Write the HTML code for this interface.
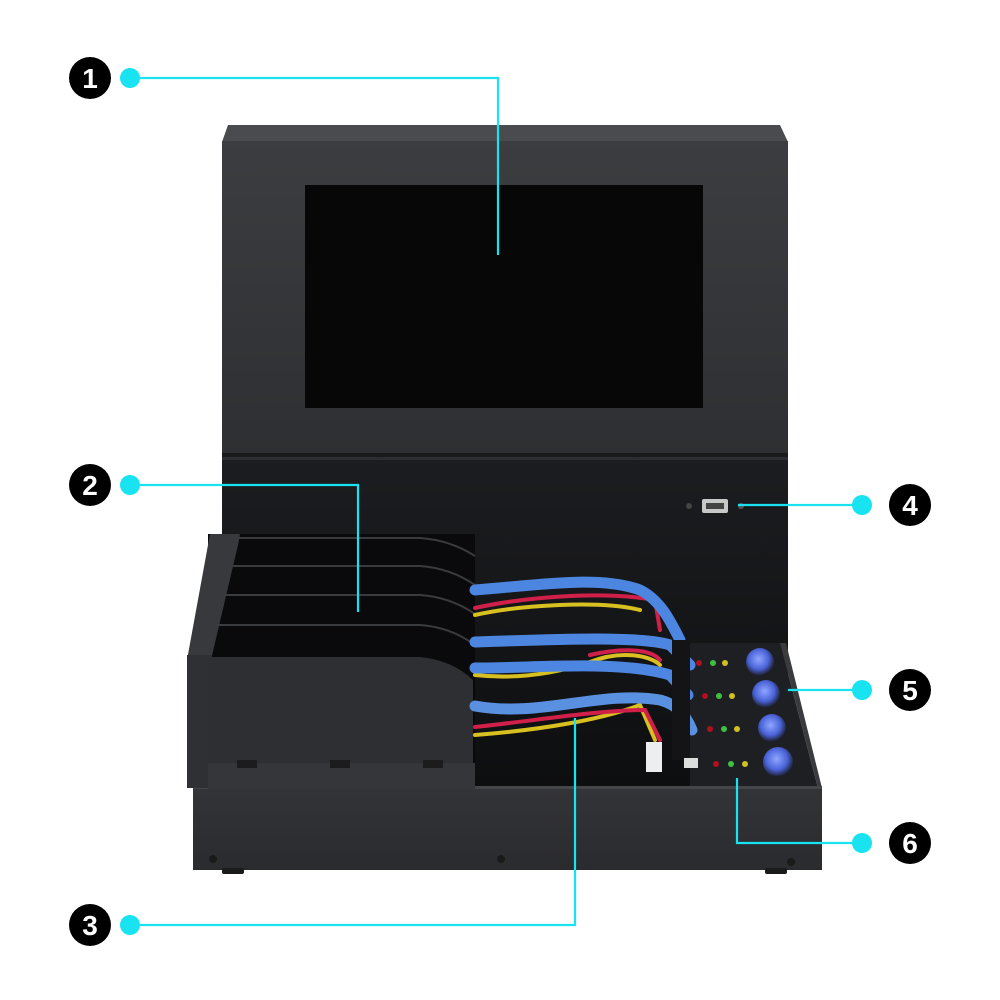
<!DOCTYPE html>
<html><head><meta charset="utf-8"><style>
html,body{margin:0;padding:0;background:#fff;}
svg{display:block;}
text{font-family:"Liberation Sans",sans-serif;font-weight:bold;}
</style></head><body>
<svg width="1000" height="1000" viewBox="0 0 1000 1000" xmlns="http://www.w3.org/2000/svg">
<defs>
<linearGradient id="mon" x1="0" y1="0" x2="0" y2="1"><stop offset="0" stop-color="#3c3d40"/><stop offset="1" stop-color="#2e2f32"/></linearGradient>
<linearGradient id="back" x1="0" y1="0" x2="0" y2="1"><stop offset="0" stop-color="#1c1d20"/><stop offset="1" stop-color="#0d0e10"/></linearGradient>
<linearGradient id="base" x1="0" y1="0" x2="0" y2="1"><stop offset="0" stop-color="#333438"/><stop offset="1" stop-color="#2a2b2e"/></linearGradient>
<radialGradient id="btn" cx="0.45" cy="0.4" r="0.6"><stop offset="0" stop-color="#8fa6ff"/><stop offset="0.6" stop-color="#4a63d8"/><stop offset="1" stop-color="#1a1c24"/></radialGradient>
</defs>
<!-- monitor -->
<polygon points="228,125 780,125 788,142 222,142" fill="#4a4b4e"/>
<rect x="222" y="141" width="566" height="315" fill="url(#mon)"/>
<rect x="305" y="185" width="398" height="223" fill="#070708"/>
<rect x="222" y="453" width="566" height="4" fill="#1a1a1c"/>
<!-- lower back body -->
<rect x="222" y="457" width="566" height="333" fill="url(#back)"/>
<rect x="222" y="457" width="566" height="3" fill="#2c2d30"/>
<!-- usb -->
<circle cx="689" cy="506" r="3" fill="#444"/>
<rect x="702" y="499" width="26" height="14" rx="2" fill="#c8c8c8"/>
<rect x="706" y="503" width="18" height="6" fill="#444"/>
<circle cx="741" cy="506" r="3" fill="#555"/>
<!-- right control panel -->
<polygon points="690,643 780,643 818,788 690,788" fill="#1e1f22"/>
<polygon points="780,643 786,643 822,788 818,788" fill="#3a3b3e"/>
<!-- base front -->
<rect x="193" y="786" width="629" height="84" fill="url(#base)"/>
<rect x="193" y="786" width="629" height="3" fill="#45464a"/>
<circle cx="213" cy="859" r="4" fill="#1a1a1a"/>
<circle cx="501" cy="859" r="4" fill="#1a1a1a"/>
<circle cx="791" cy="862" r="4" fill="#1a1a1a"/>
<rect x="222" y="868" width="22" height="6" rx="2" fill="#1a1a1a"/>
<rect x="765" y="868" width="22" height="6" rx="2" fill="#1a1a1a"/>
<!-- drive bay -->
<rect x="208" y="534" width="267" height="230" fill="#0a0a0c"/>
<polygon points="187,660 210,534 240,534 238,545 211,660" fill="#38393c"/>
<rect x="187" y="655" width="24" height="133" fill="#2f3033"/>
<g fill="none" stroke="#3a3b3e" stroke-width="2">
<path d="M238,538 L420,538 Q450,540 475,556"/>
<path d="M232,566 L420,566 Q450,568 475,585"/>
<path d="M222,595 L420,595 Q450,597 475,614"/>
<path d="M214,625 L420,625 Q450,627 475,645"/>
</g>
<path d="M208,657 L420,657 Q452,660 473,680 L473,765 L208,765 Z" fill="#2e2f33"/>
<rect x="208" y="763" width="267" height="26" fill="#353639"/>
<rect x="237" y="760" width="20" height="8" fill="#1c1c1e"/>
<rect x="330" y="760" width="20" height="8" fill="#1c1c1e"/>
<rect x="423" y="760" width="20" height="8" fill="#1c1c1e"/>
<!-- cables -->
<g fill="none" stroke-linecap="round">
<path d="M475,615 C520,605 600,600 640,610" stroke="#d8c020" stroke-width="4"/>
<path d="M475,608 C520,598 600,590 655,600 L660,630" stroke="#d0204a" stroke-width="4"/>
<path d="M475,590 C540,585 600,575 640,590 C660,600 670,620 680,640" stroke="#4d86e0" stroke-width="11"/>
<path d="M475,642 C540,640 640,635 670,645 L690,665" stroke="#4d86e0" stroke-width="11"/>
<path d="M475,675 C520,680 560,672 590,662 C620,650 650,655 660,665" stroke="#d8c020" stroke-width="4"/>
<path d="M590,655 C620,648 650,648 660,660" stroke="#d0204a" stroke-width="4"/>
<path d="M475,668 C540,668 620,660 670,675 L688,695" stroke="#4d86e0" stroke-width="11"/>
<path d="M475,735 C540,730 600,720 640,705 L655,740" stroke="#d8c020" stroke-width="4"/>
<path d="M475,727 C540,720 600,710 645,710 L660,740" stroke="#d0204a" stroke-width="4"/>
<path d="M475,706 C540,718 600,690 660,700 C680,705 688,720 692,730" stroke="#5a90e0" stroke-width="11"/>
</g>
<rect x="646" y="742" width="16" height="30" fill="#eee"/>
<!-- connector blocks -->
<rect x="672" y="640" width="18" height="120" fill="#141416"/>
<rect x="684" y="758" width="14" height="10" fill="#ddd"/>
<!-- LEDs & buttons -->
<g>
<circle cx="699" cy="663" r="3" fill="#b01020"/><circle cx="713" cy="663" r="3" fill="#40c040"/><circle cx="725" cy="663" r="3" fill="#d0c020"/>
<circle cx="705" cy="696" r="3" fill="#b01020"/><circle cx="719" cy="696" r="3" fill="#40c040"/><circle cx="732" cy="696" r="3" fill="#d0c020"/>
<circle cx="710" cy="729" r="3" fill="#b01020"/><circle cx="724" cy="729" r="3" fill="#40c040"/><circle cx="737" cy="729" r="3" fill="#d0c020"/>
<circle cx="716" cy="764" r="3" fill="#b01020"/><circle cx="731" cy="764" r="3" fill="#40c040"/><circle cx="745" cy="764" r="3" fill="#d0c020"/>
<circle cx="760" cy="662" r="14" fill="url(#btn)"/>
<circle cx="766" cy="694" r="14" fill="url(#btn)"/>
<circle cx="772" cy="728" r="14" fill="url(#btn)"/>
<circle cx="778" cy="762" r="15" fill="url(#btn)"/>
</g>
<!-- callout lines -->
<g stroke="#19e3f0" stroke-width="2.2" fill="none">
<polyline points="130,78 498,78 498,255"/>
<polyline points="130,485 358,485 358,612"/>
<polyline points="130,925 575,925 575,718"/>
<polyline points="862,505 738,505"/>
<polyline points="862,690 788,690"/>
<polyline points="862,843 737,843 737,778"/>
</g>
<g fill="#19e3f0">
<circle cx="130" cy="78" r="10"/><circle cx="130" cy="485" r="10"/><circle cx="130" cy="925" r="10"/>
<circle cx="862" cy="505" r="10"/><circle cx="862" cy="690" r="10"/><circle cx="862" cy="843" r="10"/>
</g>
<g fill="#000">
<circle cx="90" cy="78" r="21"/><circle cx="90" cy="485" r="21"/><circle cx="90" cy="925" r="21"/>
<circle cx="910" cy="505" r="21"/><circle cx="910" cy="690" r="21"/><circle cx="910" cy="843" r="21"/>
</g>
<g fill="#fff" font-size="28" text-anchor="middle">
<text x="90" y="88">1</text><text x="90" y="495">2</text><text x="90" y="935">3</text>
<text x="910" y="515">4</text><text x="910" y="700">5</text><text x="910" y="853">6</text>
</g>
</svg>
</body></html>
